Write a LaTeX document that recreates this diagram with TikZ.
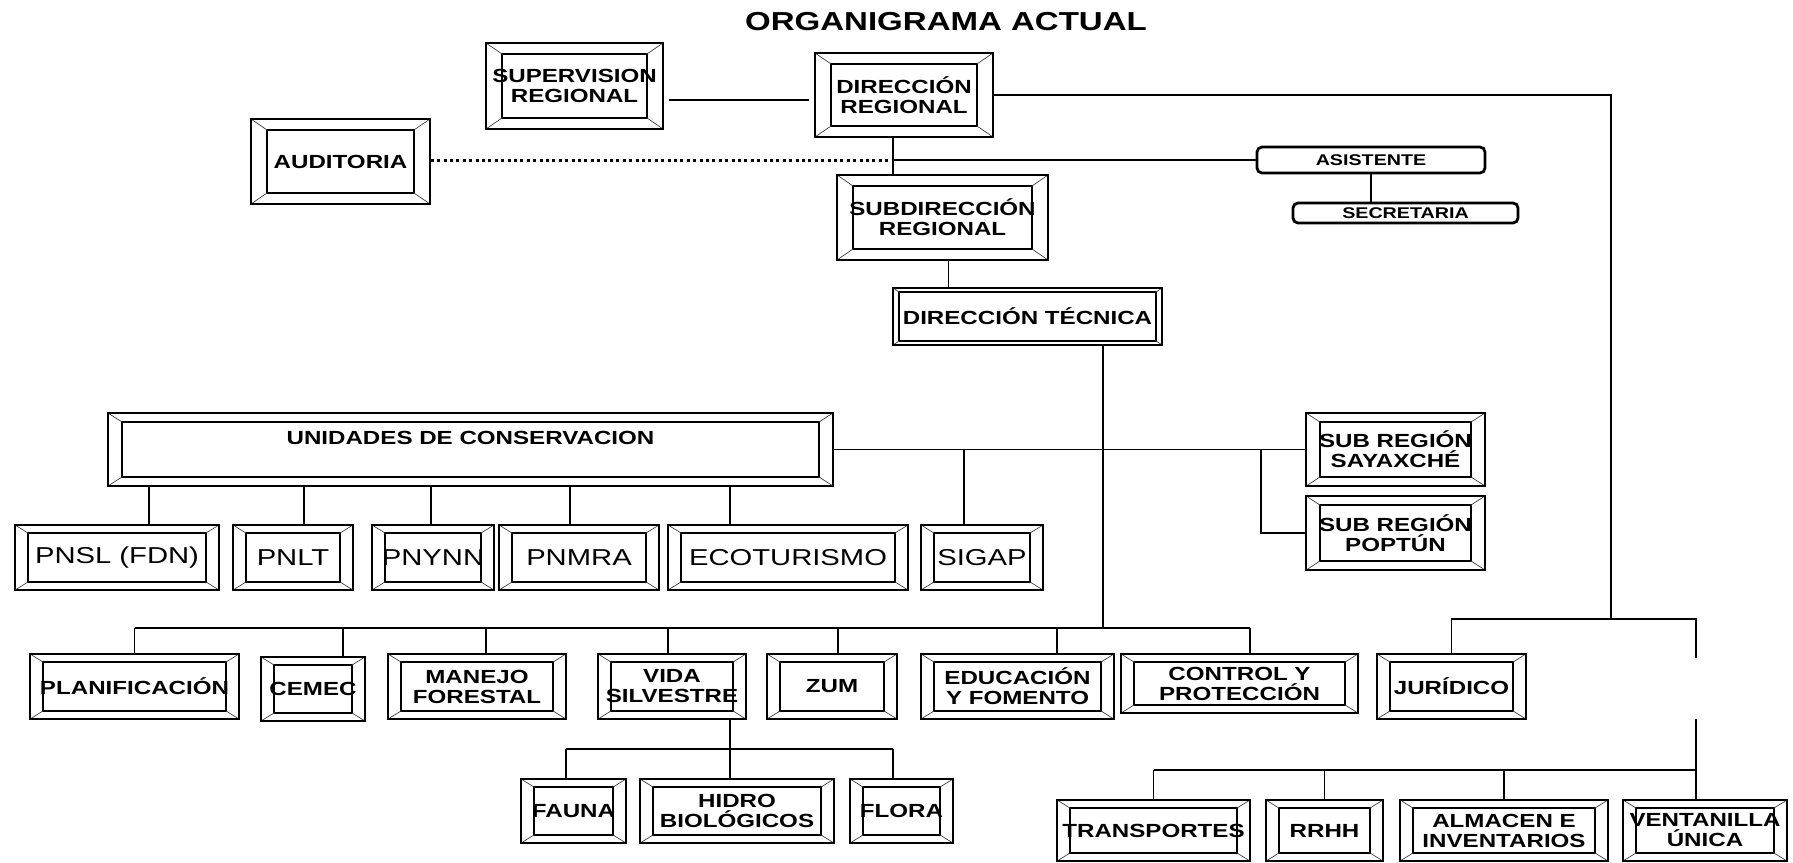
\documentclass[tikz,border=0pt]{standalone}
\usepackage{fontspec}
\newfontfamily\orgfont{Liberation Sans}[FakeStretch=1.27]

\tikzset{
  bevx/.store in=\bvx, bevy/.store in=\bvy, bevx=13pt, bevy=8pt,
  bevbox/.style={draw, line width=1.4pt, inner sep=0pt, align=center,
    font=\orgfont\bfseries\fontsize{19}{20}\selectfont,
    path picture={
      \draw[line width=1.2pt] ([shift={(\bvx,\bvy)}]path picture bounding box.south west)
        rectangle ([shift={(-\bvx,-\bvy)}]path picture bounding box.north east);
      \draw[line width=0.7pt,black!75]
        (path picture bounding box.south west) -- ++(\bvx,\bvy)
        (path picture bounding box.north east) -- ++(-\bvx,-\bvy)
        (path picture bounding box.north west) -- ++(\bvx,-\bvy)
        (path picture bounding box.south east) -- ++(-\bvx,\bvy);
    }},
  wh/.style 2 args={minimum width=#1pt, minimum height=#2pt},
  rowfont/.style={font=\orgfont\fontsize{23}{25}\selectfont},
  roundbox/.style={draw, line width=2.8pt, rounded corners=5pt, inner sep=0pt,
    font=\orgfont\bfseries\fontsize{15.5}{16}\selectfont},
  link/.style={line width=1.4pt},
  dotlink/.style={line width=3pt, dash pattern=on 3pt off 3.4pt}
}

\begin{document}
\begin{tikzpicture}[x=1pt,y=-1pt]
  \useasboundingbox (0,0) rectangle (1793,862);
  \node[font=\orgfont\bfseries\fontsize{26}{28}\selectfont] (title) at (946,22) {ORGANIGRAMA ACTUAL};

  % upper management
  \node[bevbox, bevx=16pt, bevy=11pt, wh={177}{86}] (sup) at (574.5,86) {SUPERVISION\\REGIONAL};
  \node[bevbox, bevx=16pt, bevy=11pt, wh={178}{84}] (dirreg) at (904,95) {DIRECCIÓN\\REGIONAL};
  \node[bevbox, bevx=16pt, bevy=11pt, wh={179}{85}] (aud) at (340.5,161.5) {AUDITORIA};
  \node[bevbox, bevx=16pt, bevy=11pt, wh={211}{85}] (subdir) at (942.5,217.5) {SUBDIRECCIÓN\\REGIONAL};
  \node[bevbox, bevx=6pt, bevy=4pt, wh={269}{57}] (dtec) at (1027.5,316.5) {DIRECCIÓN TÉCNICA};
  \node[roundbox, wh={228}{26}] (asis) at (1371,160) {ASISTENTE};
  \node[roundbox, wh={225}{20}] (secr) at (1405.5,213) {SECRETARIA};

  % conservation units
  \node[bevbox, bevx=14pt, bevy=9pt, wh={725}{73}] (unid) at (470.5,449.5)
    {\raisebox{5.5pt}[0pt][0pt]{UNIDADES DE CONSERVACION}};
  \node[bevbox, bevx=14pt, bevy=9pt, wh={179}{73}] (saya) at (1395.5,449.5) {SUB REGIÓN\\SAYAXCHÉ};
  \node[bevbox, bevx=14pt, bevy=9pt, wh={179}{74}] (popt) at (1395.5,533) {SUB REGIÓN\\POPTÚN};
  \foreach \n/\x/\w/\lbl in {pnsl/117/204/{PNSL (FDN)},pnlt/293/120/PNLT,pnynn/433/122/PNYNN,
                             pnmra/579/160/PNMRA,eco/788/240/ECOTURISMO,sigap/982/122/SIGAP}{
    \node[bevbox, rowfont, wh={\w}{65}] (\n) at (\x,557.5) {\lbl};
  }

  % technical units
  \foreach \n/\x/\w/\lbl in {plan/134.5/209/{PLANIFICACIÓN},manejo/477/178/{MANEJO\\FORESTAL},
                             vida/672/148/{VIDA\\SILVESTRE},zum/832/130/ZUM,
                             educ/1017.5/193/{EDUCACIÓN\\Y FOMENTO},jur/1451.5/149/{JURÍDICO}}{
    \node[bevbox, wh={\w}{65}] (\n) at (\x,686.5) {\lbl};
  }
  \node[bevbox, wh={104}{64}] (cemec) at (313,689) {CEMEC};
  \node[bevbox, wh={237}{59}] (ctrl) at (1239.5,683.5) {CONTROL Y\\PROTECCIÓN};
  \foreach \n/\x/\w/\lbl in {fauna/573.5/105/FAUNA,hidro/737/194/{HIDRO\\BIOLÓGICOS},flora/901.5/103/FLORA}{
    \node[bevbox, wh={\w}{64}] (\n) at (\x,811) {\lbl};
  }
  \foreach \n/\x/\w/\lbl in {transp/1153.5/193/TRANSPORTES,rrhh/1324.5/117/RRHH,
                             almac/1504/208/{ALMACEN E\\INVENTARIOS},vent/1705/164/{VENTANILLA\\ÚNICA}}{
    \node[bevbox, wh={\w}{61}] (\n) at (\x,830.5) {\lbl};
  }

  % trunks and buses
  \coordinate (vx) at (893,0);
  \coordinate (tx) at (1103,0);
  \coordinate (rx) at (1611,0);
  \coordinate (gx) at (1696,0);
  \coordinate (bx) at (1261,0);
  \coordinate (supy) at (0,100);
  \coordinate (jbus) at (0,619);
  \coordinate (tbus) at (0,628);
  \coordinate (vbus) at (0,749);
  \coordinate (lbus) at (0,770);
  \coordinate (gapt) at (1696,658);
  \coordinate (gapb) at (1696,719);

  \draw[link] ([xshift=5pt]sup.east |- supy) -- ([xshift=-5pt]dirreg.west |- supy);
  \draw[link] (vx |- dirreg.south) -- (vx |- subdir.north);
  \draw[dotlink] (aud.east |- asis.west) -- (vx |- asis.west);
  \draw[link] (vx |- asis.west) -- (asis.west);
  \draw[link] (asis.south) -- (asis.south |- secr.north);
  \draw[link] ([xshift=6pt]subdir.south) -- ([xshift=6pt]subdir.south |- dtec.north);
  \draw[link] (tx |- dtec.south) -- (tx |- tbus);

  \draw[link] (unid.east) -- (saya.west);
  \draw[link] (bx |- saya.west) |- (popt.west);
  \draw[link] ([xshift=-18pt]sigap.north |- unid.east) -- ([xshift=-18pt]sigap.north);
  \foreach \b/\dx in {pnsl/32,pnlt/11,pnynn/-2,pnmra/-9,eco/-58}
    \draw[link] ([xshift=\dx pt]\b.north |- unid.south) -- ([xshift=\dx pt]\b.north);

  \draw[link] (plan.north |- tbus) -- ([xshift=10.5pt]ctrl.north |- tbus);
  \foreach \b/\dx in {plan/0,cemec/30,manejo/9,vida/-4,zum/6,educ/39.5,ctrl/10.5}
    \draw[link] ([xshift=\dx pt]\b.north |- tbus) -- ([xshift=\dx pt]\b.north);

  \draw[link] ([xshift=58pt]vida.south) -- ([xshift=58pt]vida.south |- vbus);
  \draw[link] ([xshift=-7.5pt]fauna.north |- vbus) -- ([xshift=-8.5pt]flora.north |- vbus);
  \foreach \b/\dx in {fauna/-7.5,hidro/-7,flora/-8.5}
    \draw[link] ([xshift=\dx pt]\b.north |- vbus) -- ([xshift=\dx pt]\b.north);

  \draw[link] (dirreg.east) -| (rx |- jbus);
  \draw[link] (jur.north) -- (jur.north |- jbus) -- (gx |- jbus) -- (gapt);
  \draw[link] (gapb) -- (gx |- vent.north);
  \draw[link] (transp.north |- lbus) -- (gx |- lbus);
  \foreach \b in {transp,rrhh,almac}
    \draw[link] (\b.north |- lbus) -- (\b.north);
\end{tikzpicture}
\end{document}
